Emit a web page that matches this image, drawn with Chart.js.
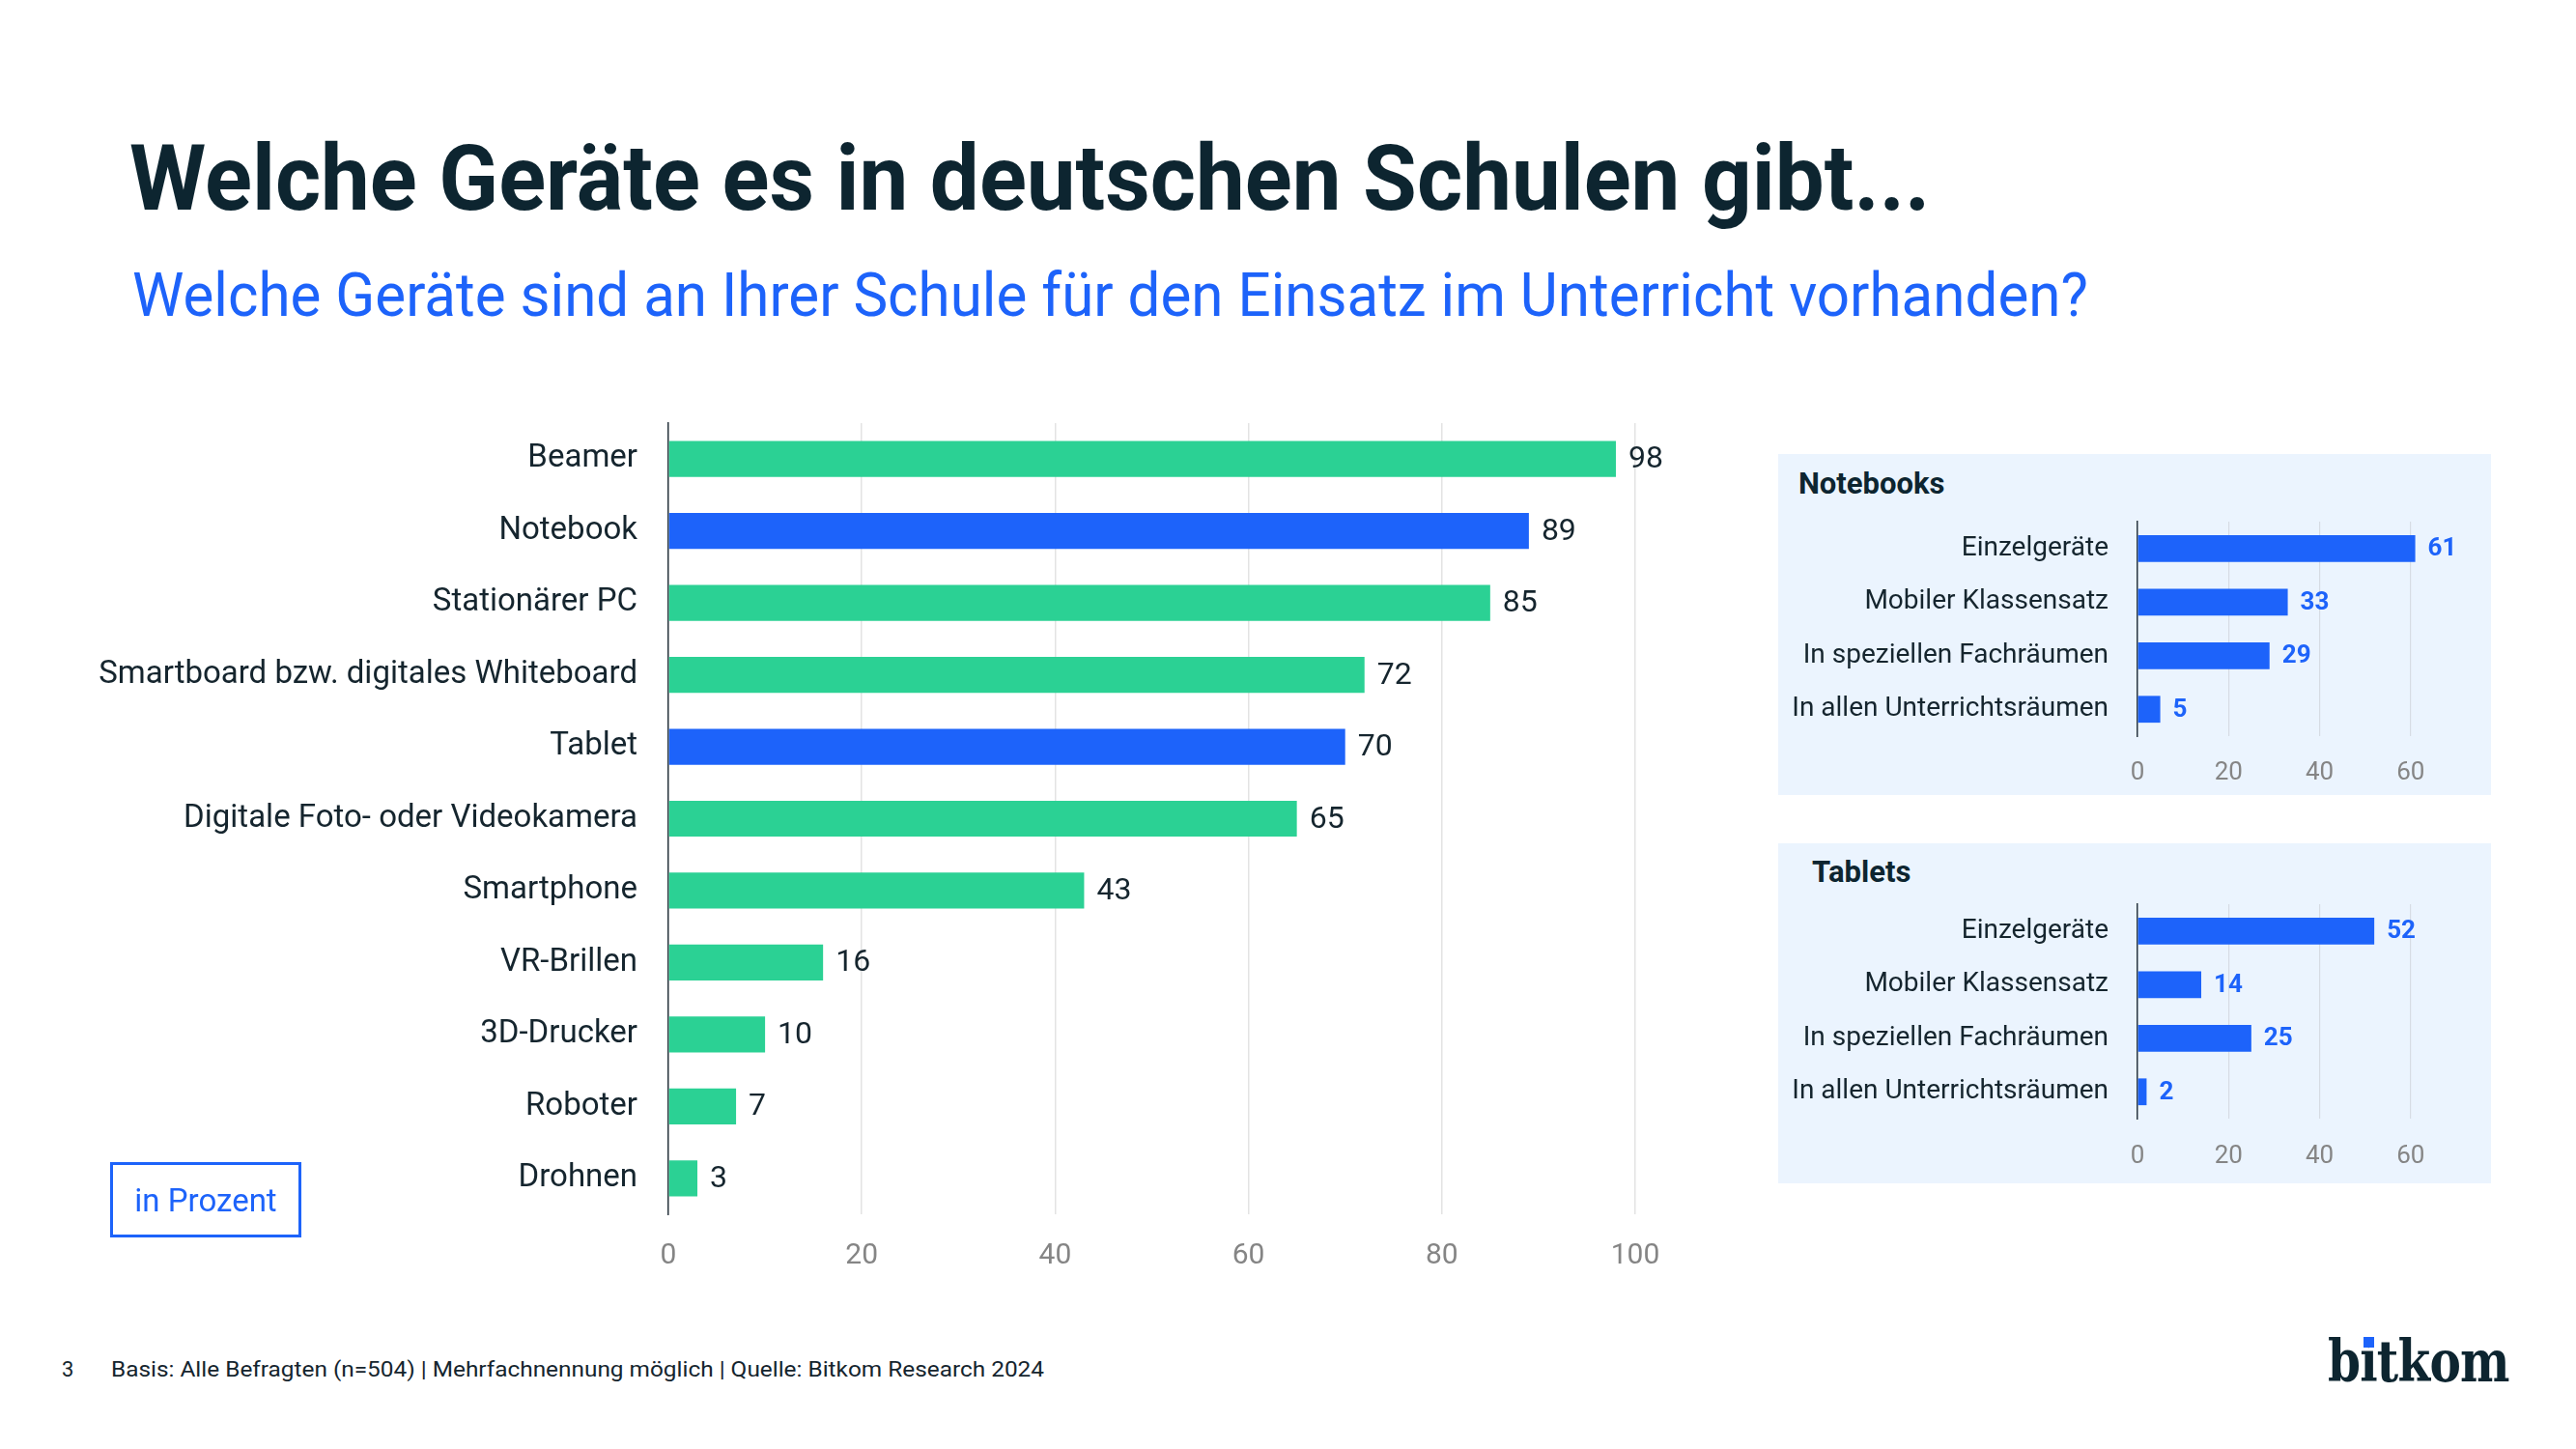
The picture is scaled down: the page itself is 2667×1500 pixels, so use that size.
<!DOCTYPE html>
<html><head><meta charset="utf-8">
<script src="https://cdn.jsdelivr.net/npm/chart.js@4.4.1/dist/chart.umd.min.js"></script>
<style>
html,body{margin:0;padding:0;background:#fff;width:2667px;height:1500px;overflow:hidden;font-family:Roboto,"Noto Sans",sans-serif;}
.abs{position:absolute;white-space:nowrap;}
.fit{transform-origin:0 0;}
#title{left:134px;top:138px;font-size:94px;line-height:94px;font-weight:700;color:#0d2530;}
#subtitle{left:137px;top:274px;font-size:63px;line-height:63px;font-weight:400;color:#1d63fa;}
.panel{position:absolute;left:1841px;width:738px;background:#ebf4fe;}
.ptitle{font-size:31px;line-height:31px;font-weight:700;color:#0d2530;}
#unit{left:114px;top:1203px;width:192px;height:72px;border:3px solid #1d63fa;color:#1d63fa;font-size:33px;display:flex;align-items:center;justify-content:center;}
.foot{font-size:22px;line-height:22px;color:#15252e;top:1407px;}
#logo{left:2410px;top:1380px;font-family:"DejaVu Serif",serif;font-weight:700;font-size:59px;line-height:59px;color:#0d2530;letter-spacing:-1px;}
#logodot{position:absolute;left:2446px;top:1384px;width:11px;height:11px;background:#1d63fa;}
canvas{position:absolute;}
</style></head>
<body>
<div id="title" class="abs fit">Welche Geräte es in deutschen Schulen gibt...</div>
<div id="subtitle" class="abs fit">Welche Geräte sind an Ihrer Schule für den Einsatz im Unterricht vorhanden?</div>

<div class="panel" style="top:470px;height:353px;"></div>
<div class="panel" style="top:873px;height:352px;"></div>
<div class="abs ptitle" style="left:1862px;top:485px;">Notebooks</div>
<div class="abs ptitle" style="left:1876px;top:887px;">Tablets</div>

<canvas id="main" width="1760" height="920" style="left:40px;top:420px;"></canvas>
<canvas id="nb" width="737" height="353" style="left:1842px;top:470px;"></canvas>
<canvas id="tb" width="737" height="352" style="left:1842px;top:873px;"></canvas>

<div id="unit" class="abs">in Prozent</div>
<div class="abs foot" style="left:64px;">3</div>
<div id="footer" class="abs foot fit" style="left:115px;">Basis: Alle Befragten (n=504) | Mehrfachnennung möglich | Quelle: Bitkom Research 2024</div>
<div id="logo" class="abs fit">bitkom</div>
<div id="logodot"></div>

<script>
// ---- data ----
const categories = ["Beamer","Notebook","Stationärer PC","Smartboard bzw. digitales Whiteboard","Tablet","Digitale Foto- oder Videokamera","Smartphone","VR-Brillen","3D-Drucker","Roboter","Drohnen"];
const values = [98,89,85,72,70,65,43,16,10,7,3];
const highlighted = ["Notebook","Tablet"];
const xTicks = [0,20,40,60,80,100];

const subCategories = ["Einzelgeräte","Mobiler Klassensatz","In speziellen Fachräumen","In allen Unterrichtsräumen"];
const notebookValues = [61,33,29,5];
const tabletValues = [52,14,25,2];
const subTicks = [0,20,40,60];

// ---- style ----
const GREEN = "#2bd194", BLUE = "#1d63fa", DARK = "#15252e", GRAY = "#858585";

const valueLabels = {
  id: "valueLabels",
  afterDatasetsDraw(chart, args, opts) {
    const ctx = chart.ctx;
    const meta = chart.getDatasetMeta(0);
    const data = chart.data.datasets[0].data;
    ctx.save();
    ctx.font = opts.font;
    ctx.fillStyle = opts.color;
    ctx.textBaseline = "middle";
    ctx.textAlign = "left";
    meta.data.forEach((bar, i) => {
      ctx.fillText(String(data[i]), bar.x + opts.offset, bar.y + 1);
    });
    ctx.restore();
  }
};

function fixTicks(list) {
  return function(scale) { scale.ticks = list.map(v => ({ value: v })); };
}

new Chart(document.getElementById("main"), {
  type: "bar",
  data: {
    labels: categories,
    datasets: [{
      data: values,
      backgroundColor: categories.map(c => highlighted.includes(c) ? BLUE : GREEN),
      categoryPercentage: 1,
      barPercentage: 0.5,
      borderWidth: 0
    }]
  },
  plugins: [valueLabels],
  options: {
    indexAxis: "y",
    responsive: false,
    animation: false,
    layout: { padding: { top: 18, right: 107, bottom: 0, left: 0 } },
    plugins: {
      legend: { display: false },
      tooltip: { enabled: false },
      valueLabels: { font: "32px Roboto", color: DARK, offset: 13 }
    },
    scales: {
      x: {
        min: 0, max: 100,
        afterBuildTicks: fixTicks(xTicks),
        afterFit(s) { s.height = 83; },
        grid: { color: "#e3e3e3", lineWidth: 1.5, drawTicks: false },
        border: { display: false },
        ticks: { padding: 25, color: GRAY, font: { family: "Roboto", size: 30 } }
      },
      y: {
        afterFit(s) { s.width = 652; s.paddingTop = 0; s.paddingBottom = 0; },
        grid: { display: false },
        border: { display: true, color: "#2a3640", width: 1.5 },
        ticks: { padding: 24, color: DARK, font: { family: "Roboto", size: 33 } }
      }
    }
  }
});

function subChart(id, vals, padTop, axisH, tickPad) {
  new Chart(document.getElementById(id), {
    type: "bar",
    data: {
      labels: subCategories,
      datasets: [{
        data: vals,
        backgroundColor: BLUE,
        categoryPercentage: 1,
        barPercentage: 0.5,
        borderWidth: 0
      }]
    },
    plugins: [valueLabels],
    options: {
      indexAxis: "y",
      responsive: false,
      animation: false,
      layout: { padding: { top: padTop, right: 36, bottom: 0, left: 0 } },
      plugins: {
        legend: { display: false },
        tooltip: { enabled: false },
        valueLabels: { font: "bold 26px Roboto", color: BLUE, offset: 13 }
      },
      scales: {
        x: {
          min: 0, max: 70,
          afterBuildTicks: fixTicks(subTicks),
          afterFit(s) { s.height = axisH; },
          grid: { color: "#d6dce4", lineWidth: 1.2, drawTicks: false },
          border: { display: false },
          ticks: { padding: tickPad, color: GRAY, font: { family: "Roboto", size: 26 } }
        },
        y: {
          afterFit(s) { s.width = 371; s.paddingTop = 0; s.paddingBottom = 0; },
          grid: { display: false },
          border: { display: true, color: "#2a3640", width: 1.5 },
          ticks: { padding: 22, color: DARK, font: { family: "Roboto", size: 28 } }
        }
      }
    }
  });
}
subChart("nb", notebookValues, 70, 61, 23);
subChart("tb", tabletValues, 63, 67, 24);

function fit(id, w) {
  const el = document.getElementById(id);
  const r = el.offsetWidth;
  el.style.transform = "scaleX(" + (w / r) + ")";
}
function placeDot() {
  const logo = document.getElementById("logo");
  const node = logo.firstChild;
  const range = document.createRange();
  range.setStart(node, 1);
  range.setEnd(node, 2);
  const r = range.getBoundingClientRect();
  const dot = document.getElementById("logodot");
  dot.style.left = (r.left + r.width / 2 - 5.5) + "px";
}
function fitAll() {
  fit("title", 1864);
  fit("subtitle", 2025);
  fit("footer", 966);
  fit("logo", 188);
  placeDot();
}
fitAll();
if (document.fonts && document.fonts.ready) document.fonts.ready.then(fitAll);
</script>
</body></html>
